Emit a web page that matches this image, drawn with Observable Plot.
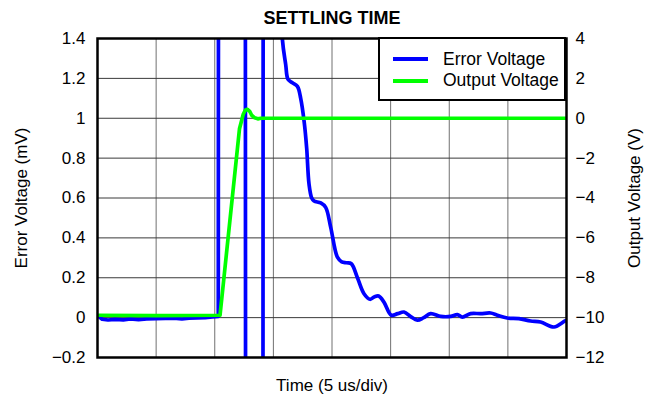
<!DOCTYPE html>
<html>
<head>
<meta charset="utf-8">
<script src="https://cdn.jsdelivr.net/npm/d3@7"></script>
<script src="https://cdn.jsdelivr.net/npm/@observablehq/plot@0.6"></script>
<style>
  body { margin: 0; background: #fff; }
  #wrap { position: relative; width: 656px; height: 400px; font-family: "Liberation Sans", Arial, sans-serif; }
  .leg { position: absolute; background: #fff; border: 2px solid #000; box-sizing: border-box; }
  .sw { position: absolute; height: 4px; }
  .lt { position: absolute; font-size: 17.5px; line-height: 17.5px; white-space: nowrap; color: #000; }
</style>
</head>
<body>
<div id="wrap"></div>
<script>
// ---- data ----
const chartTitle = "SETTLING TIME";
const xLabel = "Time (5 us/div)";
const yLeftLabel = "Error Voltage (mV)";
const yRightLabel = "Output Voltage (V)";
const seriesNames = ["Error Voltage", "Output Voltage"];
const seriesColors = ["#0000ff", "#00ff00"];

const timeDomain = [0, 40];               // us, 8 divisions of 5 us
const timeDivisions = [5, 10, 15, 20, 25, 30, 35];
const leftTicks = [-0.2, 0, 0.2, 0.4, 0.6, 0.8, 1, 1.2, 1.4];   // mV
const rightTicks = [-12, -10, -8, -6, -4, -2, 0, 2, 4];          // V

// Error voltage: baseline and off-scale spikes (mV)
const errorSpikeT  = [0, 0.4, 0.9, 1.5, 2.2, 2.8, 3.5, 4.2, 5, 5.8, 6.5, 7.2, 7.8, 8.5, 9.2, 9.8, 10.3, 10.33, 12.6, 12.64, 14.1, 14.14, 15.5];
const errorSpikeMV = [0.01, -0.008, -0.012, -0.009, -0.011, -0.007, -0.01, -0.006, -0.005, -0.004, -0.003, -0.007, -0.003, -0.001, 0.0, 0.003, 0.006, 3, 3, -2, -2, 3, 3];
// Error voltage: settling tail (mV)
const errorDecayT  = [15.5, 15.77, 16.05, 16.25, 16.62, 17.05, 17.33, 17.63, 17.84, 18.04, 18.27, 18.47, 19.04, 19.46, 19.89, 20.46, 20.83, 21.25, 21.65, 22.17, 22.73, 23.24, 23.64, 23.98, 24.43, 25.06, 25.6, 26.14, 26.71, 27.28, 27.82, 28.41, 29.27, 30.12, 30.69, 31.12, 31.82, 32.68, 33.53, 34.1, 34.95, 35.94, 36.94, 37.79, 38.93, 39.86, 40];
const errorDecayMV = [1.9, 1.395, 1.27, 1.195, 1.178, 1.16, 1.10, 0.98, 0.85, 0.67, 0.6, 0.585, 0.575, 0.553, 0.453, 0.303, 0.28, 0.275, 0.27, 0.2, 0.12, 0.092, 0.105, 0.108, 0.078, 0.012, 0.02, 0.028, 0.005, -0.013, 0.0, 0.02, 0.006, 0.006, 0.015, 0.003, 0.02, 0.02, 0.023, 0.012, -0.002, -0.005, -0.017, -0.022, -0.047, -0.017, -0.015];

// Output voltage (V)
const outputT = [0, 5, 10.45, 12.11, 12.43, 12.6, 12.79, 12.98, 13.15, 13.41, 13.67, 13.92, 40];
const outputV = [-9.88, -9.9, -9.88, -0.53, 0.2, 0.4, 0.45, 0.35, 0.15, 0.02, -0.03, 0, 0];

// ---- build tables ----
const spike = errorSpikeT.map((t, i) => ({t, v: errorSpikeMV[i]}));
const decay = errorDecayT.map((t, i) => ({t, v: errorDecayMV[i]}));
const output = outputT.map((t, i) => ({t, v: outputV[i]}));
// right axis (V) shares the left scale: mV = (V + 10) / 10
const toLeft = v => (v + 10) / 10;
const minus = n => (n < 0 ? "\u2212" + String(-n) : String(n));

const plot = Plot.plot({
  width: 656,
  height: 400,
  marginLeft: 97,
  marginRight: 90,
  marginTop: 38,
  marginBottom: 43,
  style: { fontFamily: "'Liberation Sans', Arial, sans-serif", fontSize: "17px", color: "#000", background: "#fff" },
  x: { domain: timeDomain },
  y: { domain: [leftTicks[0], leftTicks[leftTicks.length - 1]] },
  marks: [
    Plot.gridX(timeDivisions, { stroke: "#707070", strokeOpacity: 1, strokeWidth: 1 }),
    Plot.gridY(leftTicks, { stroke: "#3a3a3a", strokeOpacity: 1, strokeWidth: 1 }),
    Plot.line(spike, { x: "t", y: "v", stroke: seriesColors[0], strokeWidth: 3.7, clip: true }),
    Plot.line(decay, { x: "t", y: "v", stroke: seriesColors[0], strokeWidth: 3.7, curve: "catmull-rom", clip: true }),
    Plot.line(output, { x: "t", y: d => toLeft(d.v), stroke: seriesColors[1], strokeWidth: 3.7, clip: true }),
    Plot.frame({ stroke: "#000", strokeWidth: 2.5 }),
    Plot.axisY(leftTicks, { anchor: "left", tickSize: 0, tickPadding: 12, tickFormat: d => minus(+d.toFixed(1)), label: null }),
    Plot.axisY(rightTicks.map(toLeft), { anchor: "right", tickSize: 0, tickPadding: 9, tickFormat: d => minus(Math.round(d * 10 - 10)), label: null }),
    Plot.axisX({ ticks: [], label: null }),
    Plot.text([chartTitle], { frameAnchor: "top", textAnchor: "middle", lineAnchor: "middle", dy: -20, fontWeight: "bold", fontSize: 18 }),
    Plot.text([xLabel], { frameAnchor: "bottom", textAnchor: "middle", lineAnchor: "middle", dy: 28, fontSize: 17 }),
    Plot.text([yLeftLabel], { frameAnchor: "left", textAnchor: "middle", lineAnchor: "middle", dx: -76, rotate: -90, fontSize: 17 }),
    Plot.text([yRightLabel], { frameAnchor: "right", textAnchor: "middle", lineAnchor: "middle", dx: 68, rotate: -90, fontSize: 17 })
  ]
});

const wrap = document.getElementById("wrap");
wrap.appendChild(plot);

// legend box (top-right, inside plot frame)
const leg = document.createElement("div");
leg.className = "leg";
Object.assign(leg.style, { left: "378px", top: "37px", width: "188px", height: "64px" });
wrap.appendChild(leg);
seriesNames.forEach((name, i) => {
  const yc = 59.3 + i * 21.4;
  const sw = document.createElement("div");
  sw.className = "sw";
  Object.assign(sw.style, { left: "393px", top: (yc - 2) + "px", width: "35px", background: seriesColors[i] });
  wrap.appendChild(sw);
  const lt = document.createElement("div");
  lt.className = "lt";
  lt.textContent = name;
  Object.assign(lt.style, { left: "443px", top: (yc - 8.5) + "px" });
  wrap.appendChild(lt);
});
</script>
</body>
</html>
